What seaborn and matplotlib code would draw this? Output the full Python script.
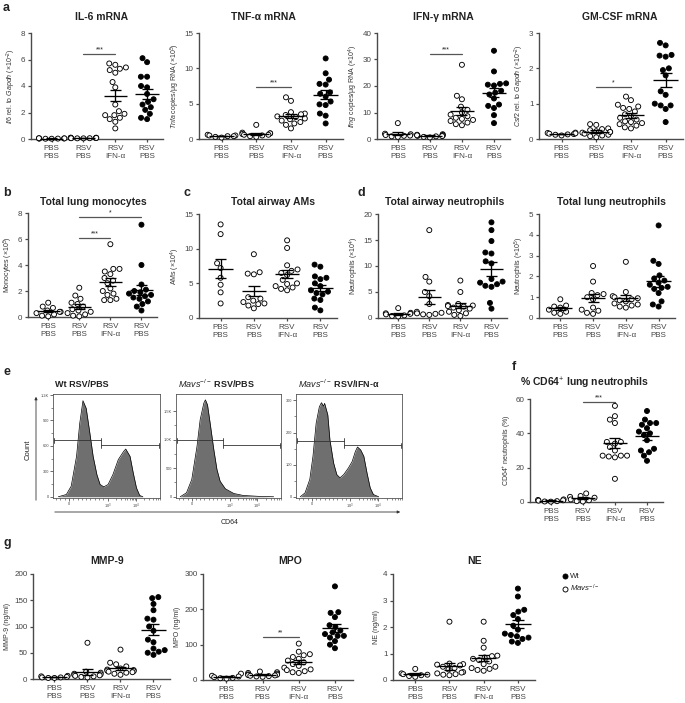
import numpy as np
import pandas as pd
import matplotlib
matplotlib.use("Agg")
import matplotlib.pyplot as plt
from matplotlib.lines import Line2D
import seaborn as sns

sns.set_theme(style="ticks")
plt.rcParams["font.family"] = ["Liberation Sans", "DejaVu Sans"]
plt.rcParams["mathtext.fontset"] = "custom"
plt.rcParams["mathtext.rm"] = "Liberation Sans"
plt.rcParams["mathtext.it"] = "Liberation Sans:italic"
plt.rcParams["mathtext.bf"] = "Liberation Sans:bold"
plt.rcParams["text.color"] = "#222222"
plt.rcParams["axes.labelcolor"] = "#333333"
plt.rcParams["xtick.color"] = "#444444"
plt.rcParams["ytick.color"] = "#444444"

# ---------------- data ----------------
group_keys = ["PBS/PBS Mavs", "RSV/PBS Mavs", "RSV/IFN Mavs", "RSV/PBS Wt"]
group_labels = ["PBS\nPBS", "RSV\nPBS", "RSV\nIFN-α", "RSV\nPBS"]
genotype = ["Mavs", "Mavs", "Mavs", "Wt"]

il6 = [[0.02, 0.03, 0.05, 0.04, 0.03, 0.06, 0.02, 0.05],
       [0.05, 0.08, 0.10, 0.06, 0.09, 0.07, 0.10, 0.05, 0.08, 0.06],
       [5.7, 5.6, 5.4, 5.3, 5.2, 5.0, 4.3, 3.9, 2.6, 2.1, 1.9, 1.8, 1.8, 1.6, 1.5, 1.3, 0.8],
       [6.1, 5.8, 4.7, 4.7, 4.0, 3.9, 3.4, 3.0, 2.8, 2.6, 2.4, 2.2, 1.9, 1.6, 1.5]]
tnf = [[0.3, 0.5, 0.4, 0.6, 0.2, 0.4, 0.5],
       [2.0, 0.9, 0.8, 0.7, 0.6, 0.5, 0.4, 0.3, 0.8, 0.6],
       [5.9, 5.4, 3.8, 3.6, 3.5, 3.4, 3.2, 3.1, 2.9, 2.8, 2.6, 2.4, 2.2, 2.0, 1.5],
       [11.4, 9.3, 8.4, 7.8, 7.7, 6.6, 6.4, 6.0, 5.3, 4.9, 4.8, 3.6, 3.3, 2.2]]
ifng = [[6.0, 2.0, 1.8, 1.5, 1.2, 1.0, 0.8, 1.3],
        [1.8, 1.6, 1.5, 1.3, 1.2, 1.0, 0.8, 0.6, 1.4, 1.1],
        [28, 16.3, 15, 12.2, 11, 10, 9.2, 8.6, 8, 7.6, 7.2, 6.8, 6.2, 5.6, 5.2],
        [33.3, 25.5, 21.0, 20.8, 20.5, 20.2, 18.2, 17.5, 16.8, 15.3, 13.0, 12.5, 11.7, 9.0, 6.0]]
gmcsf = [[0.18, 0.17, 0.15, 0.14, 0.12, 0.10, 0.16, 0.13],
         [0.42, 0.40, 0.30, 0.28, 0.25, 0.22, 0.20, 0.18, 0.15, 0.10, 0.08, 0.05, 0.12, 0.20],
         [1.2, 1.1, 0.97, 0.92, 0.88, 0.85, 0.78, 0.7, 0.65, 0.6, 0.55, 0.5, 0.48, 0.42, 0.38, 0.33, 0.3, 0.45],
         [2.72, 2.65, 2.38, 2.36, 2.33, 2.0, 1.95, 1.8, 1.35, 1.25, 1.0, 0.95, 0.95, 0.85, 0.48]]
monocytes = [[1.1, 0.8, 0.7, 0.5, 0.4, 0.3, 0.2, 0.1, 0.05, 0.4],
             [2.25, 1.65, 1.4, 1.1, 1.0, 0.8, 0.6, 0.5, 0.4, 0.3, 0.2, 0.1, 0.05],
             [5.6, 3.7, 3.7, 3.5, 3.3, 3.0, 2.8, 2.6, 2.2, 2.0, 1.8, 1.7, 1.4, 1.3, 1.3],
             [7.1, 4.0, 2.5, 2.1, 2.0, 1.9, 1.8, 1.7, 1.6, 1.5, 1.4, 1.2, 1.0, 0.8, 0.5]]
ams = [[13.5, 12.1, 7.9, 7.2, 5.8, 4.8, 3.7, 2.1],
       [9.2, 6.6, 6.4, 6.3, 2.8, 2.5, 2.3, 2.1, 2.0, 1.8, 1.4, 3.0],
       [11.2, 10.1, 7.6, 7.0, 6.8, 6.5, 6.2, 5.5, 5.0, 4.9, 4.6, 4.4, 4.2, 4.0],
       [7.7, 7.4, 6.0, 5.8, 5.6, 5.0, 4.6, 4.0, 3.8, 3.6, 3.4, 2.8, 2.6, 1.5, 1.1]]
airway_neut = [[1.9, 1.0, 0.9, 0.8, 0.7, 0.5, 0.4, 0.3],
               [16.9, 7.9, 7.0, 5.0, 4.2, 2.7, 1.2, 1.0, 0.9, 0.8, 0.7, 0.6],
               [7.2, 5.0, 2.7, 2.5, 2.4, 2.3, 2.2, 2.0, 1.8, 1.5, 1.2, 0.9, 0.6, 0.4],
               [18.4, 16.9, 14.8, 12.6, 12.4, 10.9, 10.5, 7.5, 7.0, 6.8, 6.5, 6.2, 6.0, 2.9, 1.8]]
lung_neut = [[0.9, 0.6, 0.55, 0.5, 0.4, 0.3, 0.25, 0.2],
             [2.5, 1.75, 1.2, 1.15, 1.1, 1.0, 0.9, 0.5, 0.4, 0.35, 0.25, 0.2],
             [2.7, 1.25, 1.05, 1.0, 0.95, 0.9, 0.85, 0.8, 0.7, 0.65, 0.6, 0.55, 0.5],
             [4.45, 2.75, 2.6, 2.05, 1.9, 1.8, 1.7, 1.6, 1.5, 1.45, 1.4, 1.2, 0.8, 0.65, 0.55]]
cd64 = [[1.5, 1.2, 1.0, 0.8, 0.5, 0.3, 0.2],
        [5.0, 3.5, 3.0, 2.5, 1.5, 1.0, 0.5, 0.3],
        [56, 50, 48, 46, 35, 35, 34, 32, 30, 27, 27, 26.5, 26, 27, 13.5],
        [53, 48, 46, 46, 45, 43, 41, 40, 39, 36, 31, 30, 29, 27, 24]]
mmp9 = [[6, 5, 4, 3, 3, 2, 2],
        [69, 14, 12, 10, 9, 8, 7, 6, 5, 4, 3],
        [56, 31, 28, 24, 20, 18, 17, 16, 15, 14, 13, 12, 10, 8],
        [156, 154, 143, 131, 115, 113, 100, 92, 75, 70, 58, 55, 52, 50, 46]]
mpo = [[18, 12, 10, 8, 6, 5, 4],
       [24, 22, 20, 18, 16, 15, 14, 13, 12, 11, 10, 9],
       [103, 80, 73, 70, 65, 60, 55, 50, 45, 40, 35, 30, 28, 25, 22, 20],
       [265, 192, 190, 178, 155, 140, 150, 125, 135, 130, 125, 120, 110, 100, 90]]
ne = [[0.42, 0.25, 0.22, 0.2, 0.18, 0.15, 0.12],
      [2.2, 0.62, 0.6, 0.58, 0.55, 0.5, 0.45, 0.4, 0.3, 0.28, 0.25, 0.22, 0.2, 0.18],
      [2.2, 1.48, 1.22, 0.92, 0.9, 0.85, 0.8, 0.75, 0.7, 0.6, 0.5, 0.45, 0.42, 0.38, 0.35],
      [3.45, 3.15, 2.65, 2.58, 2.45, 2.3, 2.05, 1.9, 1.75, 1.7, 1.65, 1.6, 1.55, 1.45, 1.4]]

# flow cytometry histograms (x = fraction of the CD64 display axis, y = count)
flow_titles = ["Wt RSV/PBS", r"$\it{Mavs}^{-/-}$ RSV/PBS", r"$\it{Mavs}^{-/-}$ RSV/IFN-α"]
flow1_x = [0.05, 0.125, 0.17, 0.22, 0.25, 0.28, 0.31, 0.34, 0.375, 0.41, 0.44, 0.475, 0.515,
           0.56, 0.61, 0.66, 0.68, 0.72, 0.75, 0.78, 0.81, 0.84]
flow1_y = [0, 27, 125, 477, 868, 1133, 1044, 790, 477, 262, 145, 117, 145,
           262, 438, 535, 563, 477, 281, 105, 16, 0]
flow2_x = [0.04, 0.10, 0.15, 0.20, 0.23, 0.265, 0.28, 0.30, 0.325, 0.36, 0.39, 0.42, 0.47,
           0.55, 0.64, 0.80, 0.93]
flow2_y = [0, 70, 302, 884, 1349, 1640, 1698, 1610, 1291, 826, 477, 273, 140, 58, 23, 6, 0]
flow3_x = [0.04, 0.085, 0.13, 0.16, 0.19, 0.22, 0.24, 0.26, 0.27, 0.30, 0.32, 0.355, 0.385,
           0.415, 0.45, 0.495, 0.53, 0.56, 0.58, 0.61, 0.64, 0.67, 0.70, 0.73, 0.78]
flow3_y = [0, 12, 54, 126, 229, 280, 293, 282, 291, 255, 177, 105, 69, 59, 69, 90, 110,
           141, 155, 146, 126, 74, 28, 7, 0]
flow_ymax = [1212, 1800, 320]
flow_yticks = [[0, 300, 600, 900, 1200], [0, 500, 1000, 1500], [0, 100, 200, 300]]
flow_yticklabels = [["0", "300", "600", "900", "1.2K"], ["0", "500", "1.0K", "1.5K"],
                    ["0", "100", "200", "300"]]
gate_split = 0.45
gate_levels = [[664, 606], [988, 901], [175, 160]]
cd64_ticks = [0.15, 0.51, 0.775]
cd64_ticklabels = ["0", r"10$^{3}$", r"10$^{4}$"]

# ---------------- layout helpers ----------------
W, H = 685, 703
fig = plt.figure(figsize=(W / 100, H / 100), dpi=100)
AX = "#4a4a4a"


def rect(x0, y0, x1, y1):
    return [x0 / W, 1 - y1 / H, (x1 - x0) / W, (y1 - y0) / H]


def ftext(x, y, s, **kw):
    fig.text(x / W, 1 - y / H, s, **kw)


def dot_panel(box, groups, ymax, yticks, ylabel, sigs=()):
    ax = fig.add_axes(rect(*box))
    rows = []
    for k, vals in enumerate(groups):
        for v in vals:
            rows.append((group_keys[k], genotype[k], v))
    df = pd.DataFrame(rows, columns=["group", "genotype", "value"])
    sns.swarmplot(data=df, x="group", y="value", hue="genotype", order=group_keys,
                  hue_order=["Mavs", "Wt"], palette={"Mavs": "white", "Wt": "black"},
                  size=3.6, linewidth=0.65, edgecolor="black", legend=False, ax=ax,
                  zorder=3, warn_thresh=1.0)
    for c in ax.collections:
        c.set_clip_on(False)
    for i, vals in enumerate(groups):
        a = np.asarray(vals, float)
        m = a.mean()
        se = a.std(ddof=1) / np.sqrt(len(a))
        ax.hlines(m, i - 0.37, i + 0.37, color="black", lw=0.95, zorder=5, clip_on=False)
        ax.vlines(i, m - se, m + se, color="black", lw=0.95, zorder=5, clip_on=False)
        ax.hlines([m - se, m + se], i - 0.17, i + 0.17, color="black", lw=0.95, zorder=5,
                  clip_on=False)
    for (i0, i1, y, s) in sigs:
        ax.plot([i0, i1], [y, y], color="#555555", lw=0.9, clip_on=False)
        ax.annotate(s, ((i0 + i1) / 2, y), xytext=(0, 0.3), textcoords="offset points",
                    ha="center", va="bottom", fontsize=5, annotation_clip=False)
    ax.set_xlim(-0.65, 3.5)
    ax.set_ylim(0, ymax)
    ax.set_yticks(yticks)
    ax.set_yticklabels([f"{t:g}" for t in yticks])
    ax.set_xticks(range(4))
    ax.set_xticklabels(group_labels, linespacing=1.3)
    ax.set_xlabel("")
    ax.set_ylabel(ylabel, fontsize=5, labelpad=2)
    for s in ["top", "right"]:
        ax.spines[s].set_visible(False)
    for s in ["left", "bottom"]:
        ax.spines[s].set_color(AX)
        ax.spines[s].set_linewidth(1.0)
    ax.tick_params(axis="both", direction="out", length=2.5, width=0.9, color=AX, pad=1.5,
                   labelsize=5.8)
    ax.set_facecolor("none")
    return ax


# ---------------- row a ----------------
dot_panel((31, 33, 163, 139), il6, 8, [0, 2, 4, 6, 8],
          r"$\it{Il6}$ rel. to $\it{Gapdh}$ (×10$^{-2}$)", [(1, 2, 6.4, "***")])
dot_panel((199, 33, 343, 139), tnf, 15, [0, 5, 10, 15],
          r"$\it{Tnfa}$ copies/μg RNA (×10$^{5}$)", [(1, 2, 7.4, "***")])
dot_panel((377, 33, 510, 139), ifng, 40, [0, 10, 20, 30, 40],
          r"$\it{Ifng}$ copies/μg RNA (×10$^{4}$)", [(1, 2, 32, "***")])
dot_panel((539, 33, 683, 139), gmcsf, 3, [0, 1, 2, 3],
          r"$\it{Csf2}$ rel. to $\it{Gapdh}$ (×10$^{-2}$)", [(1, 2, 1.48, "*")])

# ---------------- rows b-d ----------------
dot_panel((28, 213, 157, 317), monocytes, 8, [0, 2, 4, 6, 8], r"Monocytes (×10$^{5}$)",
          [(1, 2, 6.1, "***"), (1, 3, 7.7, "*")])
dot_panel((199, 214, 337, 318), ams, 15, [0, 5, 10, 15], r"AMs (×10$^{4}$)")
dot_panel((378, 214, 507, 318), airway_neut, 20, [0, 5, 10, 15, 20],
          r"Neutrophils (×10$^{4}$)")
dot_panel((539, 214, 675, 318), lung_neut, 5, [0, 1, 2, 3, 4, 5], r"Neutrophils (×10$^{5}$)")

# ---------------- panel f ----------------
dot_panel((530, 399, 663, 502), cd64, 60, [0, 20, 40, 60], r"CD64$^{+}$ neutrophils (%)",
          [(1, 2, 58.5, "***")])

# ---------------- row g ----------------
dot_panel((33, 574, 170, 679), mmp9, 200, [0, 50, 100, 150, 200], "MMP-9 (ng/ml)")
dot_panel((203, 574, 353, 680), mpo, 300, [0, 100, 200, 300], "MPO (ng/ml)",
          [(1, 2, 123, "**")])
dot_panel((393, 574, 535, 680), ne, 4, [0, 1, 2, 3, 4], "NE (ng/ml)")

# ---------------- panel e: flow histograms ----------------
flow_boxes = [(53, 394, 160, 498), (176, 394, 281, 498), (296, 394, 402, 498)]
flow_xs = [flow1_x, flow2_x, flow3_x]
flow_ys = [flow1_y, flow2_y, flow3_y]
minor_x = []
for dec_start, dec_w in [(0.51, 0.265), (0.775, 0.265)]:
    for k in range(2, 10):
        minor_x.append(dec_start + dec_w * np.log10(k))
minor_x += [0.03, 0.07, 0.11, 0.19, 0.23, 0.27, 0.31, 0.35, 0.39, 0.43, 0.47]
minor_x = [m for m in minor_x if 0 < m < 1]
for j in range(3):
    ax = fig.add_axes(rect(*flow_boxes[j]))
    fx = np.asarray(flow_xs[j], float)
    fy = np.asarray(flow_ys[j], float)
    ax.fill_between(fx, 0, fy, color="#6f6f6f", lw=0, zorder=2)
    sns.lineplot(x=fx, y=fy, sort=False, color="black", linewidth=0.5, ax=ax, zorder=3)
    ymax = flow_ymax[j]
    lv = gate_levels[j]
    t = ymax * 0.025
    ax.plot([0.005, gate_split], [lv[0], lv[0]], color="#333333", lw=0.6, zorder=4)
    ax.plot([gate_split, 0.995], [lv[1], lv[1]], color="#333333", lw=0.6, zorder=4)
    ax.plot([0.005, 0.005], [lv[0] - t, lv[0] + t], color="#333333", lw=0.6, zorder=4)
    ax.plot([gate_split, gate_split], [lv[1] - t, lv[0] + t], color="#333333", lw=0.6, zorder=4)
    ax.plot([0.995, 0.995], [lv[1] - t, lv[1] + t], color="#333333", lw=0.6, zorder=4)
    ax.set_xlim(0, 1)
    ax.set_ylim(-ymax * 0.012, ymax)
    ax.set_yticks(flow_yticks[j])
    ax.set_yticklabels(flow_yticklabels[j])
    ax.set_yticks([v + (flow_yticks[j][1] / 2) for v in flow_yticks[j][:-1]], minor=True)
    ax.set_xticks(cd64_ticks)
    ax.set_xticklabels(cd64_ticklabels)
    ax.set_xticks(minor_x, minor=True)
    ax.set_xlabel("")
    ax.set_ylabel("")
    for s in ax.spines.values():
        s.set_color("#555555")
        s.set_linewidth(0.6)
    ax.tick_params(axis="both", which="major", direction="out", length=2, width=0.5,
                   labelsize=2.8, pad=1, color="#333333")
    ax.tick_params(axis="both", which="minor", direction="out", length=1.2, width=0.4,
                   color="#333333")
    ftext(flow_boxes[j][0] + 2, 384, flow_titles[j], fontsize=6.5, fontweight="bold",
          va="center", ha="left")

# arrows for flow axes
fig.add_artist(matplotlib.patches.FancyArrowPatch(
    (36 / W, 1 - 503 / H), (36 / W, 1 - 394 / H), arrowstyle="-|>", mutation_scale=4,
    lw=0.6, color="#333333", transform=fig.transFigure))
fig.add_artist(matplotlib.patches.FancyArrowPatch(
    (52 / W, 1 - 512 / H), (403 / W, 1 - 512 / H), arrowstyle="-|>", mutation_scale=4,
    lw=0.6, color="#333333", transform=fig.transFigure))
ftext(28, 450, "Count", fontsize=5.5, rotation=90, ha="center", va="center")
ftext(230, 523, "CD64", fontsize=5, ha="center", va="center")

# ---------------- titles and panel letters ----------------
titles = [("IL-6 mRNA", 102, 17), ("TNF-α mRNA", 263, 17), ("IFN-γ mRNA", 443, 17),
          ("GM-CSF mRNA", 620, 17), ("Total lung monocytes", 93, 202),
          ("Total airway AMs", 273, 202), ("Total airway neutrophils", 445, 202),
          ("Total lung neutrophils", 611, 202), (r"% CD64$^{+}$ lung neutrophils", 585, 383),
          ("MMP-9", 107, 561), ("MPO", 290, 561), ("NE", 475, 561)]
for s, x, y in titles:
    ftext(x, y, s, fontsize=7.5, fontweight="bold", ha="center", va="center")

letters = [("a", 3, 8), ("b", 3, 193), ("c", 184, 193), ("d", 357, 193), ("e", 3, 372),
           ("f", 512, 367), ("g", 3, 543)]
for s, x, y in letters:
    ftext(x, y, s, fontsize=9, fontweight="bold", ha="left", va="center")

# legend for row g
handles = [Line2D([], [], ls="", marker="o", ms=3.6, mfc="black", mec="black", mew=0.65),
           Line2D([], [], ls="", marker="o", ms=3.6, mfc="white", mec="black", mew=0.65)]
fig.legend(handles, ["Wt", r"$\it{Mavs}^{-/-}$"], loc="upper left",
           bbox_to_anchor=(558 / W, 1 - 569 / H), frameon=False, fontsize=5.6,
           handlelength=0.7, handletextpad=0.3, labelspacing=0.35, borderpad=0)

fig.savefig("out.png", dpi=100)
